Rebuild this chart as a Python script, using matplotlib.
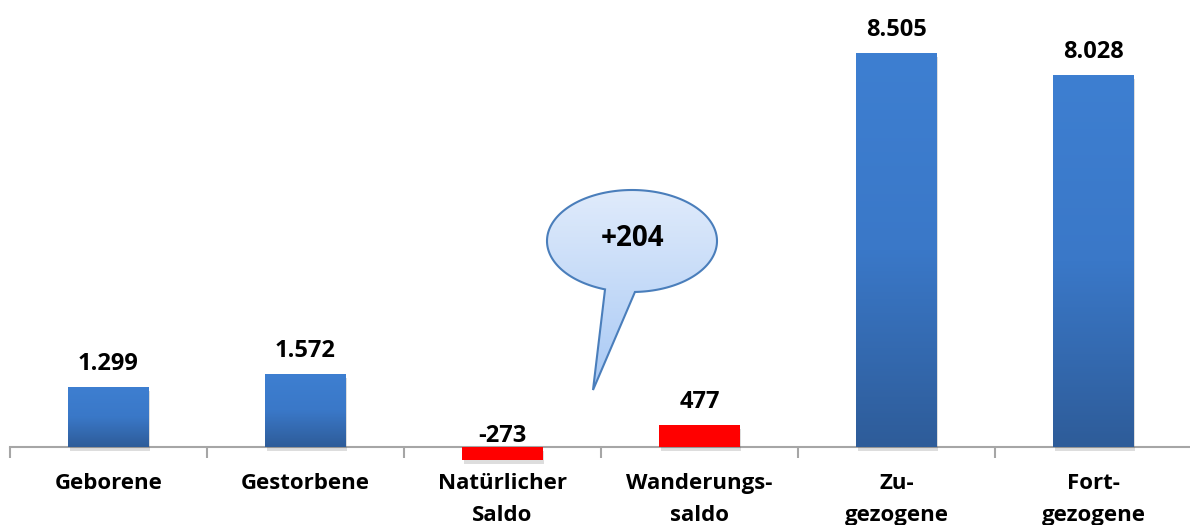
import numpy as np
import matplotlib
matplotlib.use("Agg")
import matplotlib.pyplot as plt
from matplotlib.path import Path
from matplotlib.patches import PathPatch
import matplotlib.patheffects as pe
from matplotlib.colors import LinearSegmentedColormap

categories = ["Geborene", "Gestorbene", "Natürlicher\nSaldo", "Wanderungs-\nsaldo", "Zu-\ngezogene", "Fort-\ngezogene"]
values = [1299, 1572, -273, 477, 8505, 8028]
kinds = ["blue", "blue", "red", "red", "blue", "blue"]
callout_text = "+204"

def fmt(v):
    s = f"{abs(v):,}".replace(",", ".")
    return ("-" if v < 0 else "") + s

plt.rcParams['font.family'] = ['Open Sans', 'DejaVu Sans']
W, H = 1190, 525
fig = plt.figure(figsize=(W/100, H/100), dpi=100)
ax = fig.add_axes([10/W, 0, 1182/W, 1])
scale = 394/8505.0
ax.set_ylim(-(H-447)/scale, 447/scale)
ax.set_xlim(-0.5, len(categories)-0.5)
x = np.arange(len(categories))

blue_cmap = LinearSegmentedColormap.from_list("b", ["#2e5c99", "#3a78c8", "#3e7fd1"])
shadow = [pe.SimplePatchShadow(offset=(1, -3), alpha=0.2, shadow_rgbFace="#555555"), pe.Normal()]
bars = ax.bar(x, values, width=0.41, color=["#3a78c8" if k == "blue" else "#ff0000" for k in kinds],
              zorder=2, linewidth=0)
for b, k in zip(bars, kinds):
    b.set_path_effects(shadow)
    if k == "blue":
        x0, y0 = b.get_x(), b.get_y()
        grad = np.linspace(0, 1, 256).reshape(-1, 1)
        im = ax.imshow(grad, cmap=blue_cmap, aspect='auto', origin='lower',
                       extent=[x0, x0 + b.get_width(), y0, y0 + b.get_height()], zorder=3)
        im.set_clip_path(b)

for xi, v in zip(x, values):
    off = 8 if v >= 0 else -1
    ax.annotate(fmt(v), (xi, max(v, 0)), xytext=(0, off), textcoords="offset points",
                ha="center", va="bottom", fontsize=17, fontweight="bold", zorder=5)

for s in ["left", "right", "top"]:
    ax.spines[s].set_visible(False)
ax.spines["bottom"].set_position(("data", 0))
ax.spines["bottom"].set_color("#a6a6a6")
ax.spines["bottom"].set_linewidth(1.5)
ax.spines["bottom"].set_zorder(1)
ax.set_yticks([])
ax.set_xticks(np.arange(len(categories)+1) - 0.5)
ax.set_xticklabels([])
ax.tick_params(axis="x", which="major", length=8, width=1.5, color="#a6a6a6", direction="out")
ax.set_xticks(x, minor=True)
ax.set_xticklabels(categories, minor=True, fontsize=16, fontweight="bold", linespacing=1.66)
ax.tick_params(axis="x", which="minor", length=0, pad=19)

# callout overlay in pixel coordinates
ov = fig.add_axes([0, 0, 1, 1])
ov.set_xlim(0, W)
ov.set_ylim(H, 0)
ov.axis("off")
cx, cy, rx, ry = 632, 241, 85, 51
tip = (593, 390)
a1 = np.arctan2((293 - cy)/ry, (635 - cx)/rx)
a2 = np.arctan2((293 - cy)/ry, (603 - cx)/rx)
if a2 < a1:
    a2 += 2*np.pi
angs = np.linspace(a2, a1 + 2*np.pi, 200)
pts = [(cx + rx*np.cos(t), cy + ry*np.sin(t)) for t in angs]
pts.append(tip)
pts.append(pts[0])
path = Path(pts, [Path.MOVETO] + [Path.LINETO]*(len(pts)-2) + [Path.CLOSEPOLY])
patch = PathPatch(path, facecolor="none", edgecolor="#4a7ebb", linewidth=1.5, zorder=4)
ov.add_patch(patch)
cmap2 = LinearSegmentedColormap.from_list("c", ["#e0ebfb", "#a8c9f5"])
g = np.linspace(0, 1, 256).reshape(-1, 1)
im2 = ov.imshow(g, cmap=cmap2, aspect='auto', extent=[cx-rx, cx+rx, cy-ry, tip[1]], origin='lower', zorder=3)
im2.set_clip_path(patch)
ov.text(cx, cy - 3, callout_text, ha="center", va="center", fontsize=20, fontweight="bold", zorder=5)

fig.savefig("out.png", dpi=100)
